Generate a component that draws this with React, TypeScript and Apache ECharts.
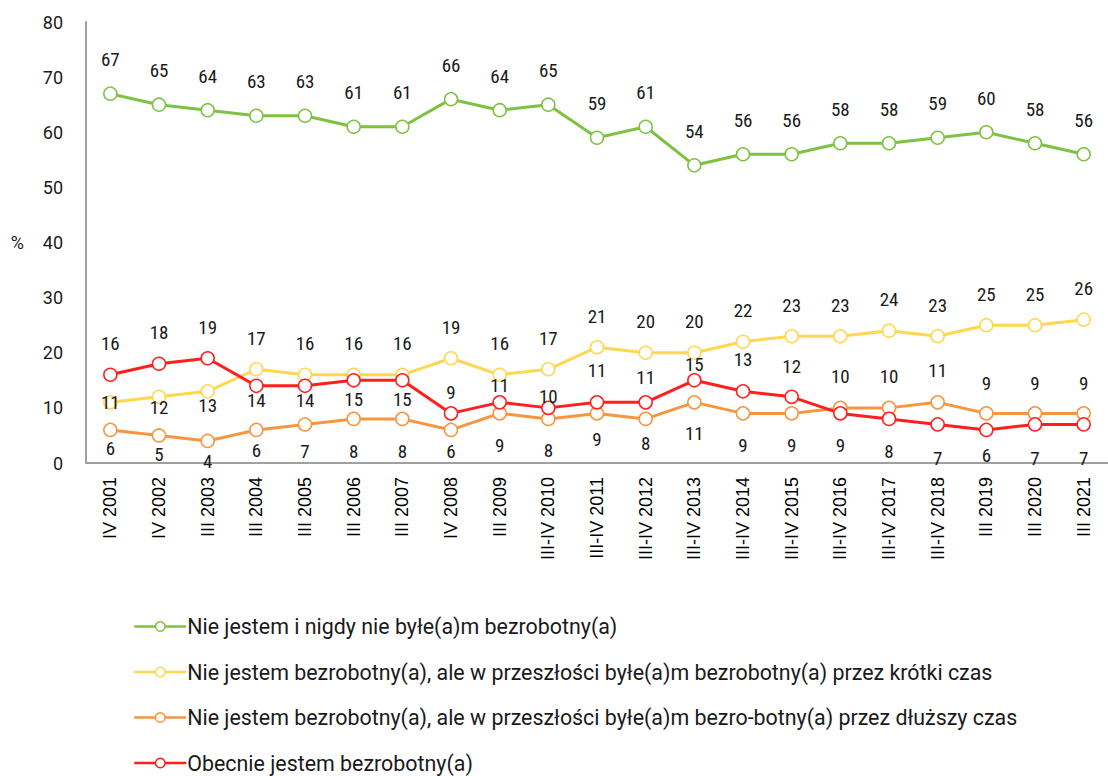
import React, { useEffect, useRef } from "react";
import * as echarts from "echarts";

const categories = [
  "IV 2001", "IV 2002", "III 2003", "III 2004", "III 2005", "III 2006", "III 2007",
  "IV 2008", "III 2009", "III-IV 2010", "III-IV 2011", "III-IV 2012", "III-IV 2013",
  "III-IV 2014", "III-IV 2015", "III-IV 2016", "III-IV 2017", "III-IV 2018",
  "III 2019", "III 2020", "III 2021",
];

const seriesNames = [
  "Nie jestem i nigdy nie byłe(a)m bezrobotny(a)",
  "Nie jestem bezrobotny(a), ale w przeszłości byłe(a)m bezrobotny(a) przez krótki czas",
  "Nie jestem bezrobotny(a), ale w przeszłości byłe(a)m bezro-botny(a) przez dłuższy czas",
  "Obecnie jestem bezrobotny(a)",
];

const neverUnemployed = [67, 65, 64, 63, 63, 61, 61, 66, 64, 65, 59, 61, 54, 56, 56, 58, 58, 59, 60, 58, 56];
const shortPast = [11, 12, 13, 17, 16, 16, 16, 19, 16, 17, 21, 20, 20, 22, 23, 23, 24, 23, 25, 25, 26];
const longPast = [6, 5, 4, 6, 7, 8, 8, 6, 9, 8, 9, 8, 11, 9, 9, 10, 10, 11, 9, 9, 9];
const currently = [16, 18, 19, 14, 14, 15, 15, 9, 11, 10, 11, 11, 15, 13, 12, 9, 8, 7, 6, 7, 7];

const yTicks = [0, 10, 20, 30, 40, 50, 60, 70, 80];

// label vertical shifts (px) relative to each point, as placed in the original
const greenLabelDy = [-34, -34, -34, -34, -34, -34, -34, -34, -34, -34, -34, -34, -34, -34, -34, -34, -34, -34, -34, -34, -34];
const yellowLabelDy = [0, 11, 14, -31, -31, -31, -31, -31, -31, -31, -31, -31, -31, -31, -31, -31, -31, -31, -31, -31, -31];
const orangeLabelDy = [19, 19, 21, 21, 27, 33, 33, 22, 32, 32, 26, 25, 31, 32, 32, -31, -31, -32, -30, -30, -30];
const redLabelDy = [-31, -31, -31, 15, 15, 19, 19, -21, -17, -11, -32, -25, -16, -32, -30, 32, 33, 34, 26, 34, 34];

const colors = ["#7DC242", "#FFD750", "#F7963F", "#FF1F1F"];

function buildSeries(name: string, values: number[], dys: number[], color: string) {
  return {
    name,
    type: "line",
    data: values.map((v, i) => ({
      value: v,
      label: { offset: [0, dys[i]] },
    })),
    symbol: "circle",
    symbolSize: 13,
    showAllSymbol: true,
    color,
    lineStyle: { color, width: 3 },
    itemStyle: { color: "#ffffff", borderColor: color, borderWidth: 1.5 },
    label: {
      show: true,
      position: "inside",
      color: "#1a1a1a",
      fontSize: 19,
      textBorderWidth: 0,
      textBorderColor: "transparent",
      fontFamily: "'Roboto Condensed', Roboto, sans-serif",
    },
    emphasis: { disabled: true },
  };
}

export default function App() {
  const ref = useRef<HTMLDivElement>(null);

  useEffect(() => {
    if (!ref.current) return;
    const chart = echarts.init(ref.current, undefined, { renderer: "svg" });
    chart.setOption({
      animation: false,
      backgroundColor: "#ffffff",
      grid: { left: 86, top: 22, right: -7, bottom: 313 },
      legend: {
        orient: "vertical",
        left: 133,
        top: 616,
        height: 200,
        padding: 0,
        itemWidth: 52,
        itemHeight: 12,
        itemGap: 24.5,
        itemStyle: { borderWidth: 1.5 },
        lineStyle: { width: 2.5 },
        textStyle: {
          fontSize: 21.4,
          color: "#1a1a1a",
          fontFamily: "Roboto, sans-serif",
          padding: [0, 0, 0, -4],
        },
        data: seriesNames,
      },
      xAxis: {
        type: "category",
        data: categories,
        boundaryGap: true,
        axisLine: { lineStyle: { color: "#a0a0a0", width: 2 } },
        axisTick: { show: false },
        axisLabel: {
          rotate: 90,
          interval: 0,
          margin: 14,
          fontSize: 18,
          color: "#000000",
          fontFamily: "'Liberation Sans', Arial, sans-serif",
        },
      },
      yAxis: {
        type: "value",
        min: yTicks[0],
        max: yTicks[yTicks.length - 1],
        interval: 10,
        name: "%",
        nameLocation: "middle",
        nameRotate: 0,
        nameGap: 62,
        nameTextStyle: { fontSize: 18, color: "#1a1a1a", fontFamily: "Roboto, sans-serif" },
        axisLine: { show: true, lineStyle: { color: "#a0a0a0", width: 2 } },
        axisTick: { show: false },
        splitLine: { show: false },
        axisLabel: {
          margin: 23,
          fontSize: 18,
          color: "#1a1a1a",
          fontFamily: "Roboto, sans-serif",
        },
      },
      series: [
        buildSeries(seriesNames[0], neverUnemployed, greenLabelDy, colors[0]),
        buildSeries(seriesNames[1], shortPast, yellowLabelDy, colors[1]),
        buildSeries(seriesNames[2], longPast, orangeLabelDy, colors[2]),
        buildSeries(seriesNames[3], currently, redLabelDy, colors[3]),
      ],
    });
    return () => chart.dispose();
  }, []);

  return (
    <div
      ref={ref}
      style={{ position: "fixed", left: 0, top: 0, width: 1108, height: 776 }}
    />
  );
}
